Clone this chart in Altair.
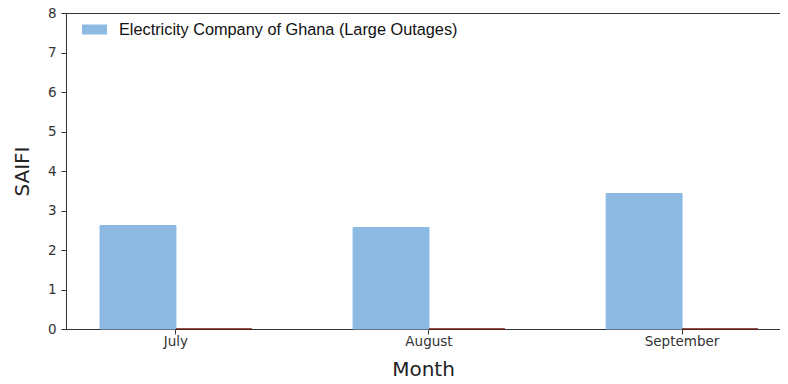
import altair as alt
import pandas as pd

months = ["July", "August", "September"]
series_names = ["Electricity Company of Ghana (Large Outages)", "Series 2"]
large_outages = [2.62, 2.57, 3.43]
second_series = [0.0, 0.0, 0.0]
colors = ["#8cbae2", "#6b1a12"]

rows = []
for m, v in zip(months, large_outages):
    rows.append({"Month": m, "series": series_names[0], "SAIFI": v})
for m, v in zip(months, second_series):
    rows.append({"Month": m, "series": series_names[1], "SAIFI": v})
df = pd.DataFrame(rows)

color_scale = alt.Scale(domain=series_names, range=colors)

chart = alt.Chart(df).mark_bar(strokeWidth=1).encode(
    x=alt.X("Month:N", sort=months,
            scale=alt.Scale(paddingInner=0.4, paddingOuter=0.1107, align=0.607),
            axis=alt.Axis(title="Month", labelAngle=0, titleFont="DejaVu Sans",
                          titleFontSize=20, titleFontWeight="normal", titleColor="#222",
                          titleY=46, titleBaseline="alphabetic",
                          labelFont="DejaVu Sans", labelFontSize=13.5, labelColor="#333",
                          tickSize=5, tickColor="#333", domainColor="#333", labelPadding=0.5)),
    xOffset=alt.XOffset("series:N", sort=series_names,
                        scale=alt.Scale(domain=series_names, paddingInner=0, paddingOuter=0)),
    y=alt.Y("SAIFI:Q", scale=alt.Scale(domain=[0, 8], nice=False),
            axis=alt.Axis(title="SAIFI", values=list(range(9)), grid=False,
                          titleFont="DejaVu Sans", titleFontSize=20, titleFontWeight="normal",
                          titleColor="#222", titleX=-44, titleY=158, titleAngle=-90,
                          titleAlign="center", titleBaseline="middle",
                          labelFont="DejaVu Sans", labelFontSize=13.5, labelColor="#333",
                          tickSize=5, tickColor="#333", domainColor="#333", labelPadding=5)),
    color=alt.Color("series:N", scale=color_scale,
                    legend=alt.Legend(title=None, values=[series_names[0]], orient="none",
                                      legendX=16, legendY=4,
                                      symbolType="M-1,-0.4H1V0.4H-1Z", symbolSize=625,
                                      symbolStrokeWidth=0, symbolOpacity=1,
                                      labelFont="Liberation Sans", labelFontSize=16.3,
                                      labelColor="#111", labelOffset=12, labelLimit=0,
                                      padding=0)),
    stroke=alt.Stroke("series:N", scale=color_scale, legend=None),
).properties(
    width=714, height=316,
    autosize=alt.AutoSizeParams(type="none"),
    padding={"left": 58, "top": 5, "right": 0, "bottom": 47},
).configure_view(stroke="#333", strokeWidth=1)

chart.save("out.html", embed_options={"renderer": "svg", "actions": False})
